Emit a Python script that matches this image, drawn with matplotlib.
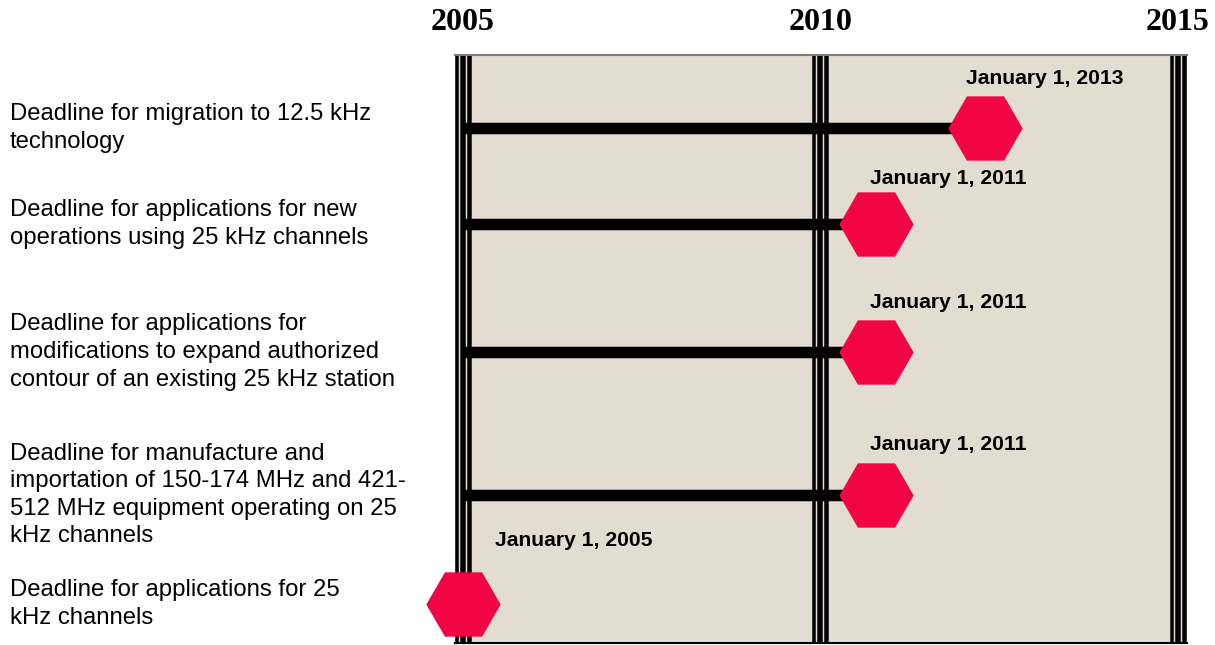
import matplotlib.pyplot as plt
from matplotlib.transforms import ScaledTranslation, blended_transform_factory

# deadlines, top to bottom
descriptions = [
    "Deadline for migration to 12.5 kHz\ntechnology",
    "Deadline for applications for new\noperations using 25 kHz channels",
    "Deadline for applications for\nmodifications to expand authorized\ncontour of an existing 25 kHz station",
    "Deadline for manufacture and\nimportation of 150-174 MHz and 421-\n512 MHz equipment operating on 25\nkHz channels",
    "Deadline for applications for 25\nkHz channels",
]
date_labels = ["January 1, 2013", "January 1, 2011", "January 1, 2011",
               "January 1, 2011", "January 1, 2005"]
# where the hexagons sit on the year axis (as drawn in the picture)
marker_years = [2012.3, 2010.78, 2010.78, 2010.78, 2005.0]
has_bar = [True, True, True, True, False]
start_year = 2005
grid_years = [2005, 2010, 2015]

# layout
row_y = [128, 224, 352, 495, 604]          # panel rows, pixels from top
label_offsets = [(-19, 50), (-6, 46), (-6, 49), (-6, 50), (32, 63)]
hex_color = "#f20545"
panel_color = "#e3dcd1"

W, H = 1215, 645
fig = plt.figure(figsize=(W / 100, H / 100), dpi=100)
ax = fig.add_axes([455 / W, 2 / H, (1187 - 455) / W, (643 - 55) / H])
ax.set_facecolor(panel_color)
ax.set_xlim(2004.888, 2015.126)
ax.set_ylim(643, 55)
ax.set_xticks([])
ax.set_yticks([])
ax.spines["left"].set_visible(False)
ax.spines["right"].set_visible(False)
ax.spines["top"].set_color("#7a7a7a")
ax.spines["top"].set_linewidth(1.5)
ax.spines["bottom"].set_color("black")
ax.spines["bottom"].set_linewidth(1.5)

# triple vertical lines at each year
px = 72 / 100  # points per pixel
for yr in grid_years:
    for dx, w in [(-6, 3.5), (0, 5.5), (6, 4.5)]:
        tr = ax.get_xaxis_transform() + ScaledTranslation(dx / 100, 0, fig.dpi_scale_trans)
        ax.plot([yr, yr], [0, 1], color="black", lw=w * px, transform=tr,
                solid_capstyle="butt", clip_on=False, zorder=2)

# bars and hexagons
for i in range(len(descriptions)):
    y = row_y[i]
    if has_bar[i]:
        ax.plot([start_year, marker_years[i]], [y, y], color="black", lw=11.5 * px,
                solid_capstyle="butt", zorder=3)
    ax.plot(marker_years[i], y, marker="H", markersize=53.5, color=hex_color,
            markeredgewidth=0, clip_on=False, zorder=4)
    ax.annotate(date_labels[i], (marker_years[i], y), xytext=label_offsets[i],
                textcoords="offset pixels", ha="left", va="center",
                fontsize=15.2, fontweight="bold", family="Liberation Sans", zorder=5)

# left descriptions
tr = blended_transform_factory(fig.transFigure, ax.transData)
for i, txt in enumerate(descriptions):
    ax.text(10 / W, row_y[i], txt, transform=tr, ha="left", va="center",
            fontsize=17.2, family="Liberation Sans", linespacing=1.33, clip_on=False)

# year labels on top
tr = blended_transform_factory(ax.transData, fig.transFigure)
for yr in grid_years:
    ax.text(yr, 1 - 23 / H, str(yr), transform=tr, ha="center", va="center",
            fontsize=23, fontweight="bold", family="Liberation Serif", clip_on=False)

fig.savefig("out.png", dpi=100)
